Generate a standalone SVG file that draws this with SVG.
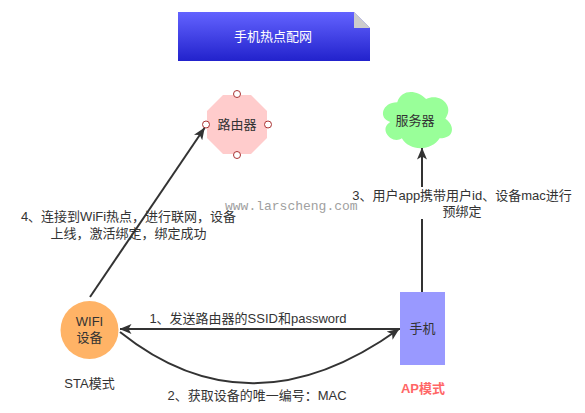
<svg xmlns="http://www.w3.org/2000/svg" width="585" height="413" viewBox="0 0 585 413">
<style>
text{font-family:"Liberation Sans","Noto Sans CJK SC",sans-serif;font-size:13px;fill:#333;text-anchor:middle}
.edge{fill:none;stroke:#333;stroke-width:2}
.pt{fill:#fff;stroke:#a33;stroke-width:1}
</style>
<defs>
<linearGradient id="g" x1="0" y1="0" x2="0" y2="1">
<stop offset="0" stop-color="#6363FF"/>
<stop offset="1" stop-color="#2222CC"/>
</linearGradient>
<marker id="arr" viewBox="0 0 12 10" refX="11.5" refY="5" markerWidth="12" markerHeight="10" orient="auto" markerUnits="userSpaceOnUse">
<path d="M0,0 L12,5 L0,10 L3,5 Z" fill="#333"/>
</marker>
</defs>
<rect width="585" height="413" fill="#fff"/>
<g id="title">
<path d="M178,12 H354 L370,28 V61 H178 Z" fill="url(#g)"/>
<path d="M354,12 L370,28 H354 Z" fill="#ccc"/>
<text x="273" y="40.5" style="fill:#fff">手机热点配网</text>
</g>
<g id="router">
<polygon points="223,95 251,95 267,111 267,138 251,154 223,154 207,138 207,111" fill="#FFCCCC"/>
<text x="237" y="129">路由器</text>
<circle class="pt" cx="237" cy="94" r="3.5"/>
<circle class="pt" cx="237" cy="155" r="3.5"/>
<circle class="pt" cx="206" cy="124.5" r="3.5"/>
<circle class="pt" cx="268" cy="124.5" r="3.5"/>
</g>
<g id="server">
<path d="M397.25,102.35 C381.85,102.35 378,118.7 390.32,121.97 C378,129.16 391.86,144.86 401.87,138.32 C408.8,151.4 431.9,151.4 439.6,138.32 C455,138.32 455,125.24 445.38,118.7 C455,105.62 439.6,92.54 426.13,99.08 C416.5,89.27 401.1,89.27 397.25,102.35 Z" fill="#99FF99"/>
<text x="415" y="124.5">服务器</text>
</g>
<g id="wifi">
<circle cx="89.5" cy="330" r="29" fill="#FFB366"/>
<text x="89.5" y="325.5">WIFI</text>
<text x="89.5" y="341.5">设备</text>
</g>
<g id="phone">
<rect x="400" y="292" width="45" height="73" fill="#9999FF"/>
<text x="422.5" y="333">手机</text>
</g>
<g id="sta"><text x="89.5" y="387.5">STA模式</text></g>
<g id="ap"><text x="423" y="392.5" style="fill:#FF6666;font-weight:bold">AP模式</text></g>
<g id="connectors">
<line class="edge" x1="90" y1="297" x2="204.5" y2="128" marker-end="url(#arr)"/>
<line class="edge" x1="422" y1="292" x2="422" y2="148" marker-end="url(#arr)"/>
<line class="edge" x1="400" y1="329" x2="120" y2="329" marker-end="url(#arr)"/>
<path class="edge" d="M120,332 Q250,436 399,329" marker-end="url(#arr)"/>
</g>
<g id="labels">
<text x="128.5" y="220.5">4、连接到WiFi热点，进行联网，设备</text>
<text x="128.5" y="237.5">上线，激活绑定，绑定成功</text>
<rect x="348" y="187" width="228" height="32" fill="#fff"/>
<text x="462" y="199.5">3、用户app携带用户id、设备mac进行</text>
<text x="462" y="215.5">预绑定</text>
<text x="248" y="322.5">1、发送路由器的SSID和password</text>
<text x="257" y="399.5">2、获取设备的唯一编号：MAC</text>
</g>
<text x="225" y="210" style="font-family:'Liberation Mono',monospace;fill:#a0a0a0;text-anchor:start">www.larscheng.com</text>
</svg>
